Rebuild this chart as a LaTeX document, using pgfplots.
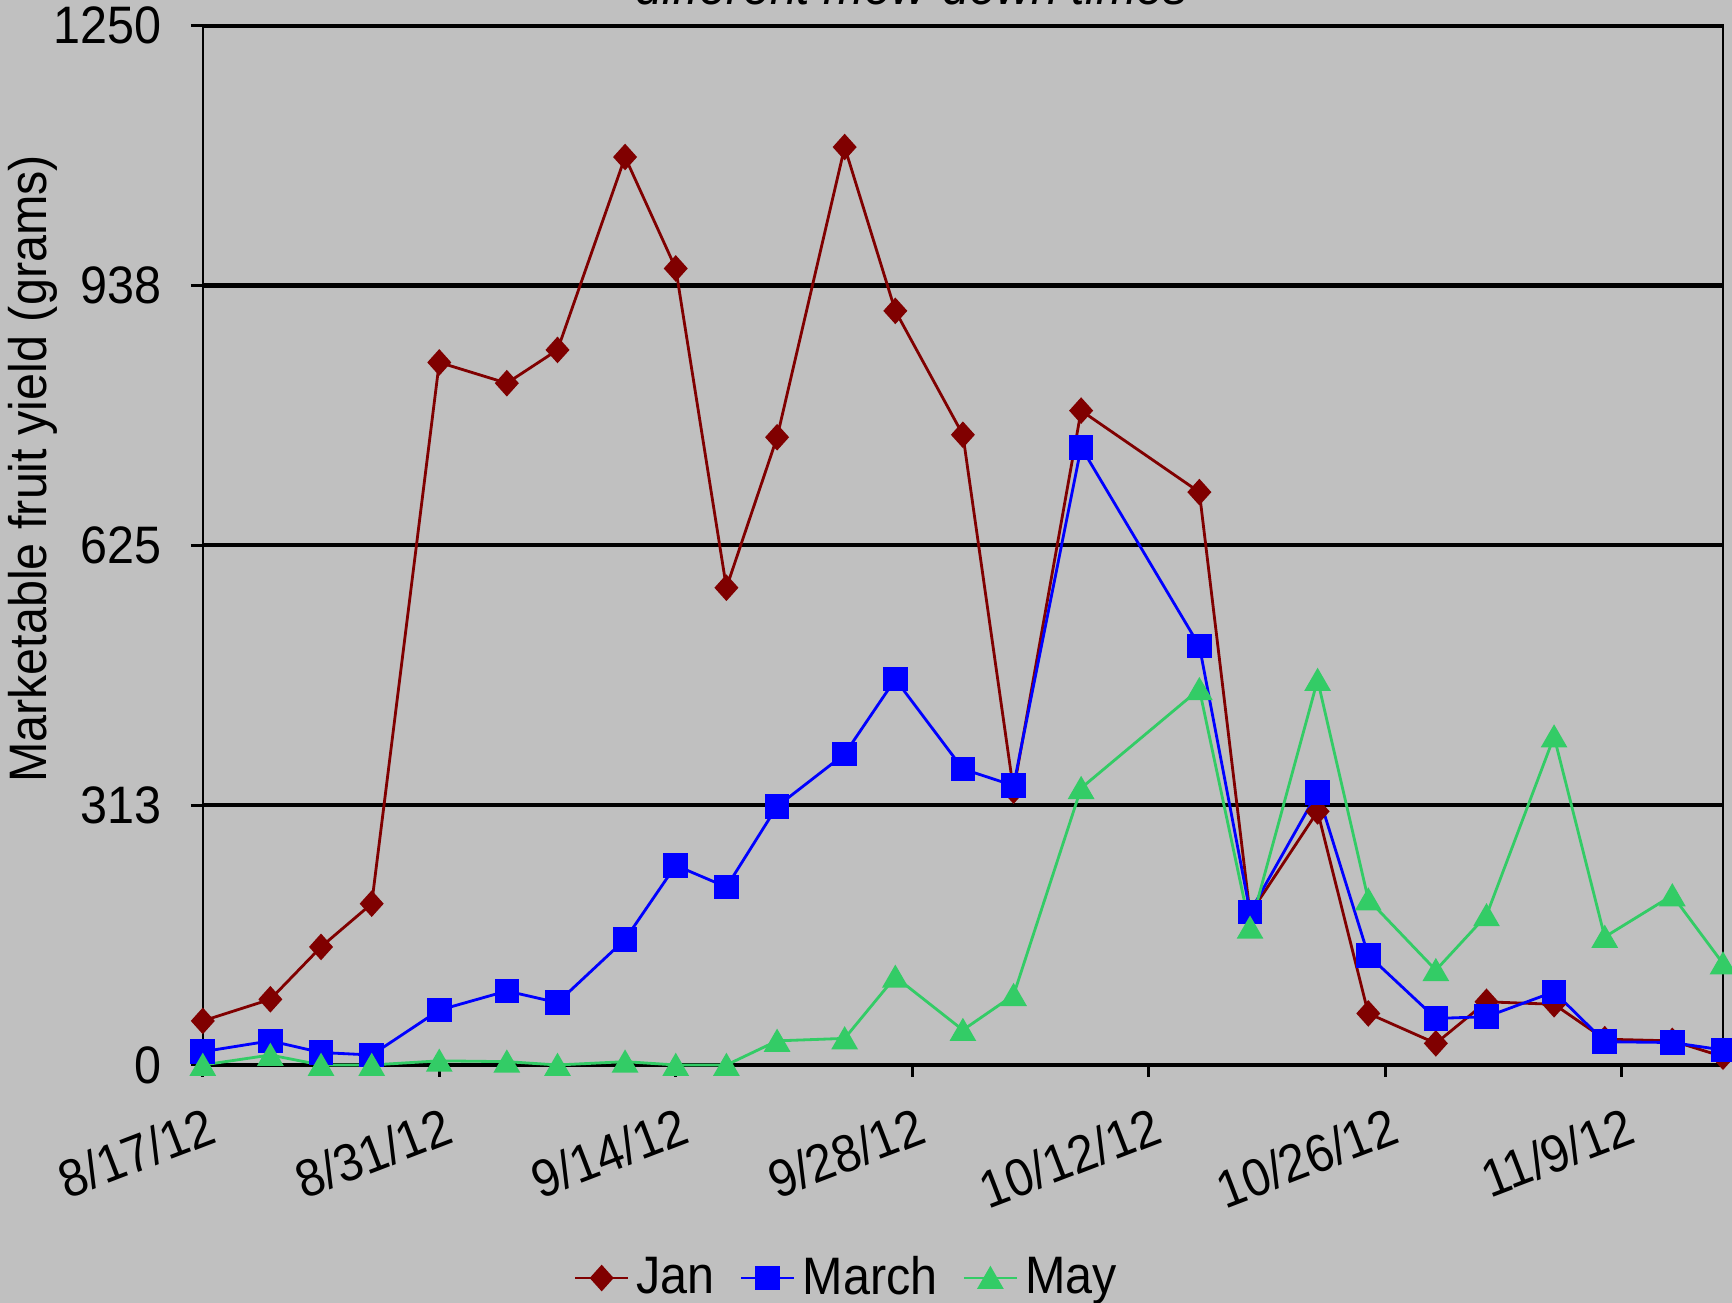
\documentclass[border=0pt]{standalone}
\usepackage{pgfplots}
\usepackage{pgfplotstable}
\pgfplotsset{compat=1.18}
\usepackage{fontspec}
\setmainfont{Liberation Sans}[FakeStretch=0.92]
\definecolor{bg}{RGB}{192,192,192}
\definecolor{janc}{RGB}{128,0,0}
\definecolor{marc}{RGB}{0,0,255}
\definecolor{mayc}{RGB}{51,204,102}
\pgfplotstableread{
day jan march may
0 53 16 0
4 79 29 12
7 142 15 0
10 194 12 0
14 845 66 5
18 820 89 4
21 860 75 0
25 1092 151 4
28 958 240 0
31 574 214 0
34 755 311 29
38 1104 374 32
41 907 464 106
45 758 356 42
48 330 336 84
52 787 743 333
59 689 504 452
62 182 184 165
66 305 328 463
69 62 132 199
73 26 56 114
76 76 58 180
80 73 88 395
83 31 28 154
87 29 27 204
90 10 18 122
}\datatable
\newcommand{\fs}{\fontsize{15pt}{18pt}\selectfont}
\begin{document}
\begin{tikzpicture}
\fill[bg] (0,0) rectangle (17.32cm,13.03cm);
\begin{axis}[
  at={(2.028cm,2.38cm)}, anchor=south west,
  scale only axis, width=15.202cm, height=10.393cm,
  xmin=0, xmax=90, ymin=0, ymax=1250,
  xtick={0,14,28,42,56,70,84},
  xticklabels={8/17/12,8/31/12,9/14/12,9/28/12,10/12/12,10/26/12,11/9/12},
  ytick={0,312.5,625,937.5,1250},
  yticklabels={0,313,625,938,1250},
  /pgf/number format/assume math mode=true,
  ymajorgrids, major grid style={black, line width=1.2pt},
  tick align=outside, tick pos=left,
  major tick length=1.2mm,
  tick style={black, line width=0.8pt},
  axis line style={black, line width=0.7pt},
  clip=false,
  ticklabel style={font=\fs},
  xticklabel style={rotate=21, anchor=north east, inner sep=0pt, xshift=0.3mm},
  xticklabel shift=2.9mm,
  yticklabel style={inner sep=0pt},
  yticklabel shift=2.9mm,
  ylabel={Marketable fruit yield (grams)},
  ylabel style={at={(axis description cs:-0.1117,0.5735)}, anchor=center, font=\fs},
  legend style={at={(0.425,-0.205)}, anchor=center, draw=none, fill=none,
    legend columns=-1, font=\fs,
    /tikz/every even column/.append style={column sep=1.8mm}},
  legend image code/.code={\draw[mark repeat=2,mark phase=2] plot coordinates {(0cm,0cm) (0.265cm,0cm) (0.53cm,0cm)};},
]
\addplot[color=janc, line width=0.8pt, mark=diamond*, mark size=3.2pt, mark options={xscale=1.2, solid, fill=janc}] table[x=day, y=jan] {\datatable};
\addlegendentry{Jan}
\addplot[color=marc, line width=0.8pt, mark=square*, mark size=3.1pt, mark options={solid, fill=marc}] table[x=day, y=march] {\datatable};
\addlegendentry{March}
\addplot[color=mayc, line width=0.8pt, mark=triangle*, mark size=3.6pt, mark options={yshift=-0.9pt, solid, fill=mayc}] table[x=day, y=may] {\datatable};
\addlegendentry{May}
\end{axis}
\node[font=\fs\itshape, anchor=base] at (9.115cm,12.98cm) {different mow-down times};
\pgfresetboundingbox
\useasboundingbox (0,0) rectangle (17.32cm,13.03cm);
\end{tikzpicture}
\end{document}
